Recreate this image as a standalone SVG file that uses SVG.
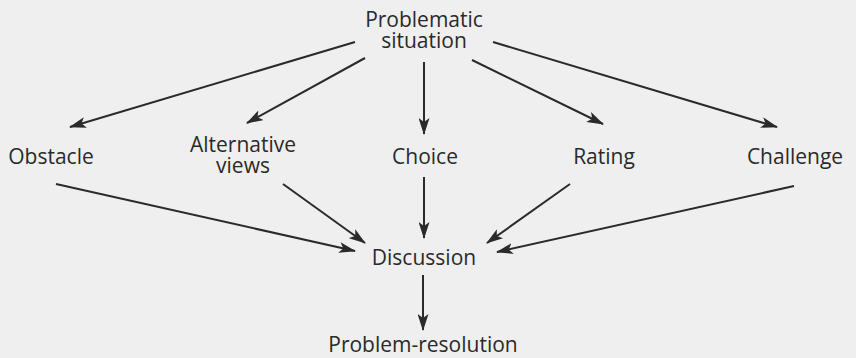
<svg xmlns="http://www.w3.org/2000/svg" width="856" height="358" viewBox="0 0 856 358">
<style>
text{font-family:"Open Sans","Noto Sans","Liberation Sans",sans-serif;font-size:21px;fill:#2a2a2a;text-anchor:middle}
.c line{stroke:#2a2a2a;stroke-width:2;marker-end:url(#ah)}
</style>
<defs>
<marker id="ah" markerUnits="userSpaceOnUse" markerWidth="17" markerHeight="11" viewBox="0 0 17 11" refX="16" refY="5.5" orient="auto">
<path d="M0,0 L17,5.5 L0,11 L4,5.5 Z" fill="#2a2a2a"/>
</marker>
</defs>
<rect width="856" height="358" fill="#efefef"/>
<g id="problematic"><text x="424" y="27">Problematic</text><text x="424" y="48">situation</text></g>
<g id="obstacle"><text x="51" y="164">Obstacle</text></g>
<g id="alternative"><text x="243" y="152">Alternative</text><text x="243" y="173">views</text></g>
<g id="choice"><text x="425" y="164">Choice</text></g>
<g id="rating"><text x="604" y="164">Rating</text></g>
<g id="challenge"><text x="795" y="164">Challenge</text></g>
<g id="discussion"><text x="424" y="265">Discussion</text></g>
<g id="resolution"><text x="423" y="352">Problem-resolution</text></g>
<g class="c" id="connectors">
<line x1="355" y1="42" x2="70" y2="127"/>
<line x1="365" y1="58" x2="247" y2="123"/>
<line x1="424" y1="62" x2="424" y2="134"/>
<line x1="472" y1="60" x2="603" y2="124"/>
<line x1="493" y1="42" x2="777" y2="127"/>
<line x1="56" y1="184" x2="355" y2="251"/>
<line x1="283" y1="184" x2="365" y2="243"/>
<line x1="424" y1="177" x2="424" y2="238"/>
<line x1="570" y1="184" x2="487" y2="243"/>
<line x1="794" y1="186" x2="497" y2="252"/>
<line x1="423" y1="275" x2="423" y2="330"/>
</g>
</svg>
